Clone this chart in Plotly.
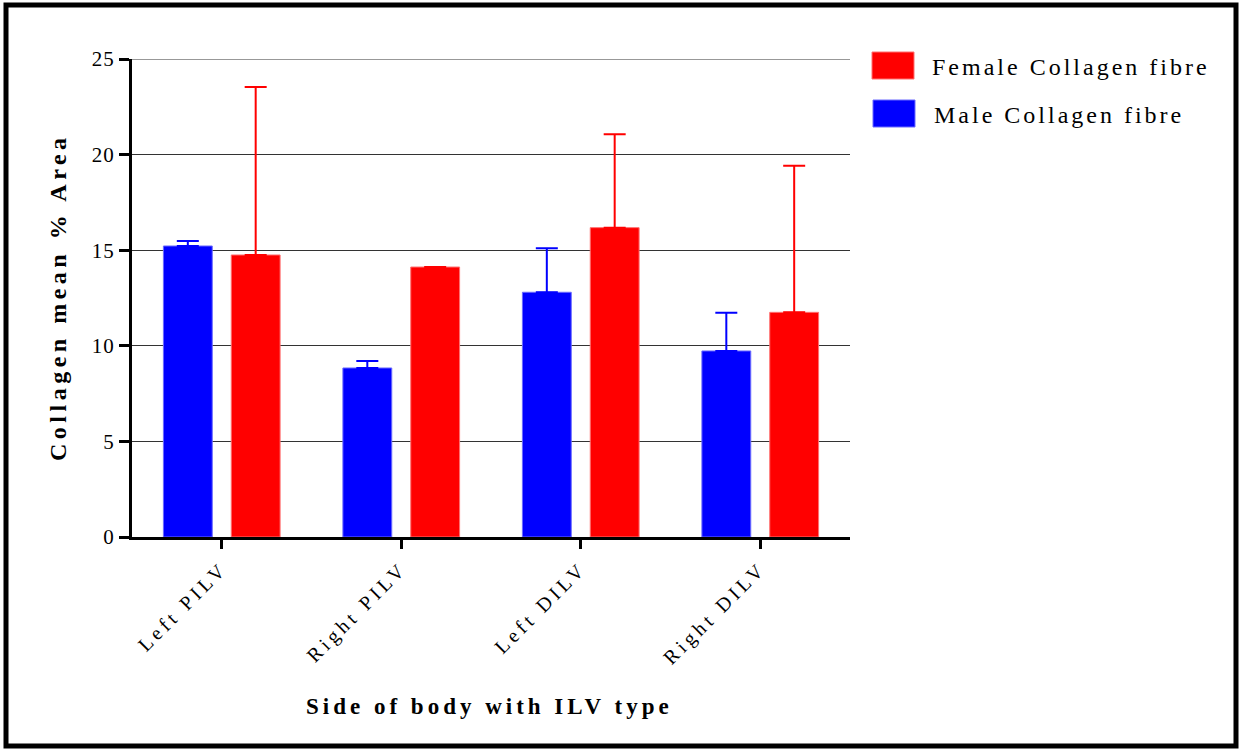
import plotly.graph_objects as go

categories = ["Left PILV", "Right PILV", "Left DILV", "Right DILV"]
male_mean = [15.22, 8.84, 12.80, 9.73]
male_sd = [0.26, 0.36, 2.30, 2.00]
female_mean = [14.75, 14.12, 16.18, 11.75]
female_sd = [8.79, 0.0, 4.88, 7.67]
y_ticks = [0, 5, 10, 15, 20, 25]

FONT = "Liberation Serif, Times New Roman, serif"
L, R, T, B = 132, 392, 59, 214
W, H = 1242, 751
pw, ph = W - L - R, H - T - B

def px(x):
    return (x - L) / pw

def py(y):
    return (H - B - y) / ph

fig = go.Figure()
fig.add_trace(go.Bar(
    name="Male Collagen fibre", x=categories, y=male_mean,
    marker=dict(color="#0000FF", line=dict(color="#6a6aff", width=1)),
    error_y=dict(type="data", symmetric=False, array=male_sd,
                 arrayminus=[0] * len(male_sd), color="#0000FF",
                 thickness=2, width=11),
    showlegend=False,
))
fig.add_trace(go.Bar(
    name="Female Collagen fibre", x=categories, y=female_mean,
    marker=dict(color="#FF0000", line=dict(color="#ff7070", width=1)),
    error_y=dict(type="data", symmetric=False, array=female_sd,
                 arrayminus=[0] * len(female_sd), color="#FF0000",
                 thickness=2, width=11),
    showlegend=False,
))

shapes = [
    dict(type="rect", xref="paper", yref="paper",
         x0=px(6), x1=px(1236), y0=py(746), y1=py(5),
         line=dict(color="black", width=5), fillcolor="rgba(0,0,0,0)"),
    # top gridline at the last tick value
    dict(type="line", xref="paper", yref="y", x0=0, x1=1,
         y0=y_ticks[-1], y1=y_ticks[-1], layer="below",
         line=dict(color="#333333", width=1)),
    dict(type="rect", xref="paper", yref="paper",
         x0=px(872), x1=px(914), y0=py(79), y1=py(52),
         line=dict(color="#ff7070", width=1), fillcolor="#FF0000"),
    dict(type="rect", xref="paper", yref="paper",
         x0=px(873), x1=px(915), y0=py(127), y1=py(100),
         line=dict(color="#6a6aff", width=1), fillcolor="#0000FF"),
]
annotations = [
    dict(text="Female Collagen fibre", xref="paper", yref="paper",
         x=px(930), y=py(67), xanchor="left", yanchor="middle", align="left",
         showarrow=False, font=dict(family=FONT, size=24, color="black")),
    dict(text="Male Collagen fibre", xref="paper", yref="paper",
         x=px(932), y=py(115), xanchor="left", yanchor="middle", align="left",
         showarrow=False, font=dict(family=FONT, size=24, color="black")),
    dict(text="<b>Side of body with ILV type</b>", xref="paper", yref="paper",
         x=px(489), y=py(706), xanchor="center", yanchor="middle",
         showarrow=False, font=dict(family=FONT, size=23, color="black")),
    dict(text="<b>Collagen mean % Area</b>", xref="paper", yref="paper",
         x=px(58), y=py(297), xanchor="center", yanchor="middle", textangle=-90,
         showarrow=False, font=dict(family=FONT, size=24, color="black")),
]

fig.update_layout(
    width=W, height=H,
    margin=dict(l=L, r=R, t=T, b=B, autoexpand=False),
    paper_bgcolor="white", plot_bgcolor="white",
    barmode="group", bargap=0.244, bargroupgap=0.28,
    font=dict(family=FONT, size=20, color="black"),
    shapes=shapes, annotations=annotations,
    showlegend=False,
)
fig.update_xaxes(
    range=[-0.5, 3.5], showline=True, linecolor="black", linewidth=3,
    ticks="outside", ticklen=9, tickwidth=3, tickcolor="black",
    tickangle=-45, tickfont=dict(family=FONT, size=20), showgrid=False,
    zeroline=False,
)
fig.update_yaxes(
    range=[0, 25], tickvals=y_ticks, showline=True, linecolor="black",
    linewidth=3, ticks="outside", ticklen=10, tickwidth=3, tickcolor="black",
    showgrid=True, gridcolor="#333333", gridwidth=1, zeroline=False,
    tickfont=dict(family=FONT, size=21),
)

post = """
var s = document.createElement('style');
s.textContent = 'html, body { margin: 0; padding: 0; overflow: hidden; }'
  + ' .xtick text { letter-spacing: 4px; }'
  + ' .ytick text { letter-spacing: 1px; }'
  + ' g.annotation[data-index="0"] text, g.annotation[data-index="1"] text { letter-spacing: 3px; }'
  + ' g.annotation[data-index="2"] text { letter-spacing: 4px; }'
  + ' g.annotation[data-index="3"] text { letter-spacing: 4.5px; }';
document.head.appendChild(s);
"""

fig.write_html("out.html", post_script=post, config={"displayModeBar": False})
